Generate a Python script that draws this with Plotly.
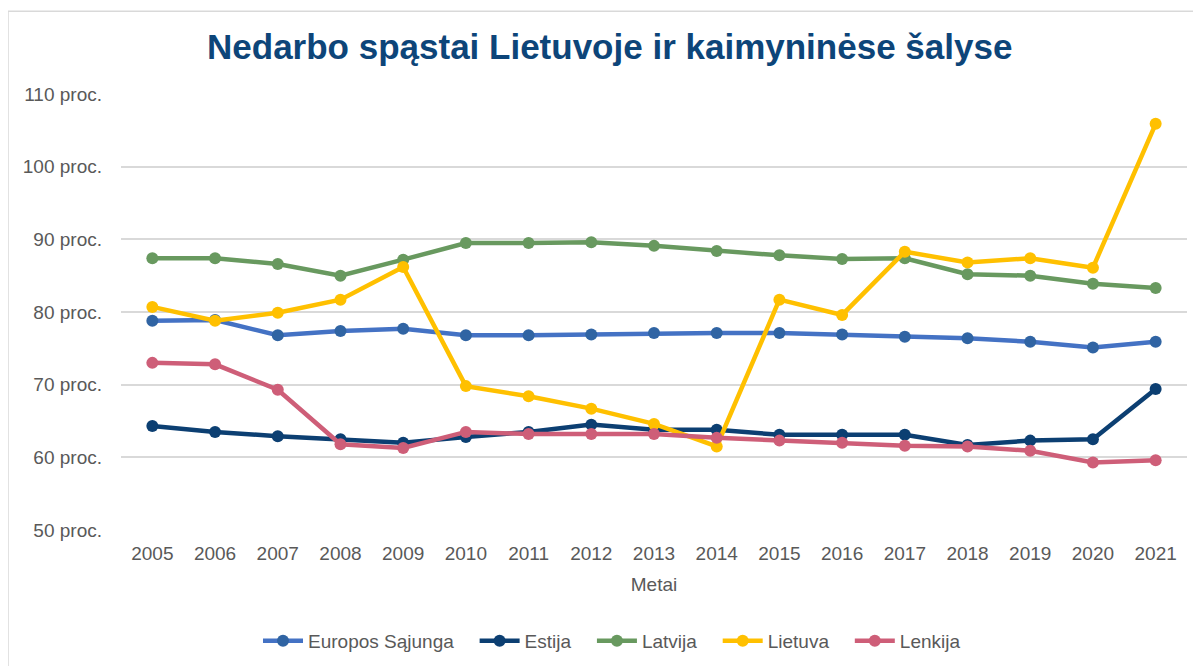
import plotly.graph_objects as go

# Nedarbo spąstai, proc.
years = [str(y) for y in range(2005, 2022)]
europos_sajunga = [78.8, 78.9, 76.8, 77.4, 77.7, 76.8, 76.8, 76.9, 77.1, 77.1, 77.1, 76.9, 76.6, 76.4, 75.9, 75.1, 75.9]
estija = [64.3, 63.5, 62.9, 62.5, 62.0, 62.8, 63.5, 64.5, 63.8, 63.8, 63.1, 63.1, 63.1, 61.7, 62.3, 62.5, 69.4]
latvija = [87.4, 87.4, 86.6, 85.0, 87.2, 89.5, 89.5, 89.6, 89.1, 88.4, 87.8, 87.3, 87.4, 85.2, 85.0, 83.9, 83.3]
lietuva = [80.7, 78.8, 79.9, 81.7, 86.2, 69.8, 68.4, 66.7, 64.6, 61.5, 81.7, 79.6, 88.3, 86.8, 87.4, 86.1, 105.9]
lenkija = [73.0, 72.8, 69.3, 61.8, 61.3, 63.5, 63.2, 63.2, 63.2, 62.7, 62.3, 62.0, 61.6, 61.5, 60.9, 59.3, 59.6]

y_ticks = [50, 60, 70, 80, 90, 100, 110]
y_labels = [f"{v} proc." for v in y_ticks]

# name, values, line colour, marker colour
series = [
    ("Europos Sąjunga", europos_sajunga, "#4472C4", "#3064A3"),
    ("Estija", estija, "#0C3F72", "#0C3F72"),
    ("Latvija", latvija, "#68995F", "#68995F"),
    ("Lietuva", lietuva, "#FFC000", "#FFC000"),
    ("Lenkija", lenkija, "#CE5E78", "#CE5E78"),
]

FONT = "Liberation Sans, Arial, sans-serif"
PAD = "\u00a0\u00a0\u00a0"  # a bit more room between legend entries

fig = go.Figure()
for i, (name, vals, color, mcolor) in enumerate(series):
    label = name if i == len(series) - 1 else name + PAD
    fig.add_trace(go.Scatter(
        x=years, y=vals, name=label, mode="lines+markers",
        line=dict(color=color, width=4.5),
        marker=dict(color=mcolor, size=12),
        hovertemplate=name + ": %{y:.1f} proc.<extra></extra>",
    ))

fig.update_layout(
    width=1201, height=666,
    margin=dict(l=113, r=22, t=86, b=144),
    paper_bgcolor="white", plot_bgcolor="white",
    font=dict(family=FONT, color="#595959", size=19),
    title=dict(
        text="<b>Nedarbo spąstai Lietuvoje ir kaimyninėse šalyse</b>",
        x=0.501, xanchor="center", xref="container",
        y=0.9414, yanchor="middle", yref="container",
        font=dict(family=FONT, size=35, color="#0D4579"),
    ),
    xaxis=dict(
        type="category", range=[-0.5, 16.5],
        showgrid=False, showline=False, zeroline=False,
        ticks="", ticklabelstandoff=10,
        title=dict(text="Metai", font=dict(size=19, color="#595959"), standoff=14),
    ),
    yaxis=dict(
        range=[50, 110], tickvals=y_ticks, ticktext=y_labels,
        showgrid=True, gridcolor="#D9D9D9", gridwidth=1.5,
        zeroline=False, showline=False, ticks="", ticklabelstandoff=18,
    ),
    legend=dict(
        orientation="h", x=0.4606, xanchor="center", xref="paper",
        y=-0.2546, yanchor="middle",
        font=dict(size=19, color="#595959"),
        itemwidth=40, traceorder="normal",
    ),
    showlegend=True,
    shapes=[dict(
        type="rect", xref="paper", yref="paper",
        x0=-0.106, x1=1.0094, y0=-0.33, y1=1.19,
        line=dict(color="#D9D9D9", width=1.5), fillcolor="rgba(0,0,0,0)",
        layer="below",
    )],
)

fig.write_html("out.html")
